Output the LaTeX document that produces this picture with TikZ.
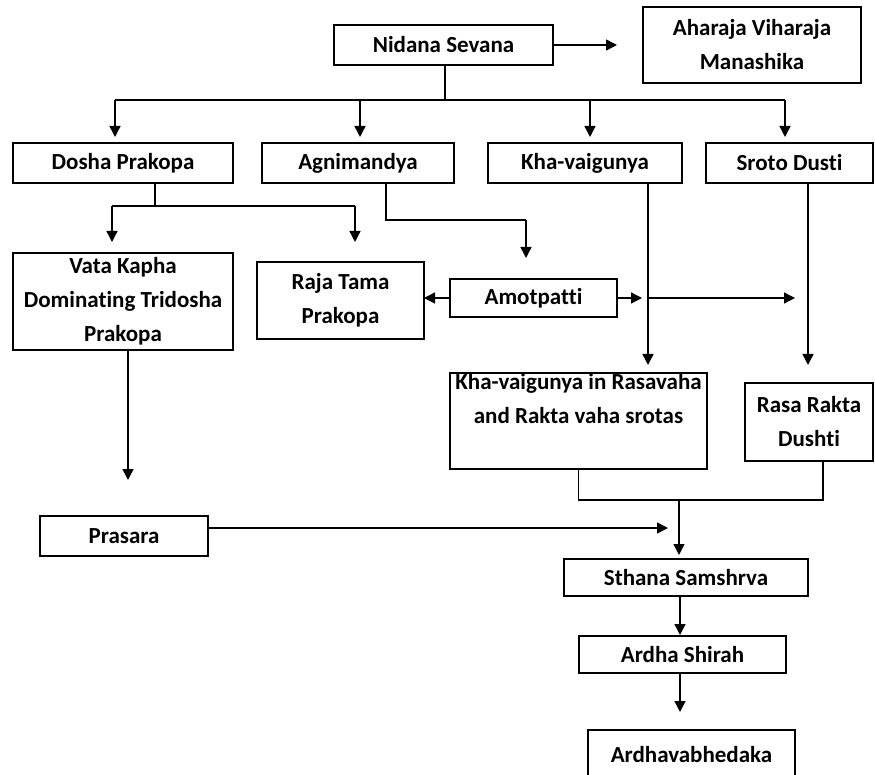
\documentclass[tikz,border=0pt]{standalone}
\usepackage{fontspec}
\setmainfont{Carlito}[RawFeature=-liga]
\usetikzlibrary{arrows.meta}
\tikzset{inner sep=0pt, outer sep=0pt}

\begin{document}
\begin{tikzpicture}[x=1pt, y=-1pt,
  box/.style={draw, line width=1.4pt, align=center,
    font=\fontsize{23}{34}\selectfont\bfseries},
  line/.style={line width=1.4pt},
  link/.style={line width=1.4pt, -{Triangle[length=11pt,width=11pt]}}]
\useasboundingbox (0,0) rectangle (875,775);
% boxes
\node[box, minimum width=219pt, minimum height=40pt] (nidana) at (443.5,45) {Nidana Sevana};
\node[box, minimum width=218pt, minimum height=76pt] (ahara) at (752,45) {Aharaja Viharaja\\Manashika};
\node[box, minimum width=220pt, minimum height=40pt] (dosha) at (123,163) {Dosha Prakopa};
\node[box, minimum width=192pt, minimum height=40pt] (agni) at (358,163) {Agnimandya};
\node[box, minimum width=194pt, minimum height=40pt] (kha) at (585,163) {Kha-vaigunya};
\node[box, minimum width=167pt, minimum height=40pt] (sroto) at (789.5,163) {Sroto Dusti};
\node[box, minimum width=220pt, minimum height=97pt] (vata) at (123,301.5) {Vata Kapha\\Dominating Tridosha\\Prakopa};
\node[box, minimum width=167pt, minimum height=77pt] (raja) at (340.5,300.5) {Raja Tama\\Prakopa};
\node[box, minimum width=167pt, minimum height=38pt] (amot) at (533.5,298) {Amotpatti};
\node[box, minimum width=257pt, minimum height=96pt] (khars) at (578.5,421) {Kha-vaigunya in Rasavaha\\and Rakta vaha srotas\\\strut};
\node[box, minimum width=128pt, minimum height=78pt] (rasa) at (809,422) {Rasa Rakta\\Dushti};
\node[box, minimum width=168pt, minimum height=40pt] (prasara) at (124,536) {Prasara};
\node[box, minimum width=244pt, minimum height=37pt] (sthana) at (686,577.5) {Sthana Samshrva};
\node[box, minimum width=207pt, minimum height=37pt] (ardha) at (682.5,654.5) {Ardha Shirah};
\node[box, line width=2.8pt, minimum width=207pt, minimum height=50pt] (ardhava) at (691.5,755) {Ardhavabhedaka};

% junction points
\coordinate (aharatip) at (617,45);
\coordinate (busl) at (115,100);
\coordinate (busr) at (785,100);
\coordinate (dbusl) at (112,206);
\coordinate (dbusr) at (355,206);
\coordinate (abend) at (526,220);
\coordinate (mergel) at (579,500);
\coordinate (merger) at (823,500);
\coordinate (mergec) at (679,500);

% connectors
\draw[link] (nidana.east) -- (aharatip);
\draw[line] ([xshift=1.5pt]nidana.south) -- ([xshift=1.5pt]nidana.south |- busl);
\draw[line] (busl) -- (busr);
\foreach \x/\n in {115/dosha, 360/agni, 590/kha, 785/sroto} {
  \draw[link, shorten >=6pt] (\x,100) -- (\x,100 |- \n.north);
} % end of \foreach \x
\draw[line] ([xshift=32pt]dosha.south) -- ([xshift=32pt]dosha.south |- dbusl);
\draw[line] (dbusl) -- (dbusr);
\draw[link, shorten >=11pt] (dbusl) -- (dbusl |- vata.north);
\draw[link, shorten >=20pt] (dbusr) -- (dbusr |- raja.north);
\draw[line] ([xshift=28pt]agni.south) |- (abend);
\draw[link, shorten >=21pt] (abend) -- (abend |- amot.north);
\draw[link] (amot.west) -- (amot.west -| raja.east);
\draw[link] (amot.east) -- ++(25,0);
\draw[link] ([xshift=63pt]kha.south |- amot.east) -- ++(147,0);
\draw[link, shorten >=8pt] ([xshift=63pt]kha.south) -- ([xshift=63pt]kha.south |- khars.north);
\draw[link, shorten >=18pt] ([xshift=18.5pt]sroto.south) -- ([xshift=18.5pt]sroto.south |- rasa.north);
\draw[line] (khars.south) |- (mergel) -- (merger) -- (merger |- rasa.south);
\draw[link, shorten >=4pt] (mergec) -- (mergec |- sthana.north);
\draw[link] ([yshift=8pt]prasara.east) -- ([yshift=8pt,xshift=-11pt]prasara.east -| mergec);
\draw[link, shorten >=36pt] ([xshift=5pt]vata.south) -- ([xshift=5pt]vata.south |- prasara.north);
\draw[link, shorten >=1pt] ([xshift=-2.5pt]ardha.north |- sthana.south) -- ([xshift=-2.5pt]ardha.north);
\draw[link, shorten >=18pt] ([xshift=-2.5pt]ardha.south) -- ([xshift=-2.5pt]ardha.south |- ardhava.north);
\end{tikzpicture}
\end{document}
